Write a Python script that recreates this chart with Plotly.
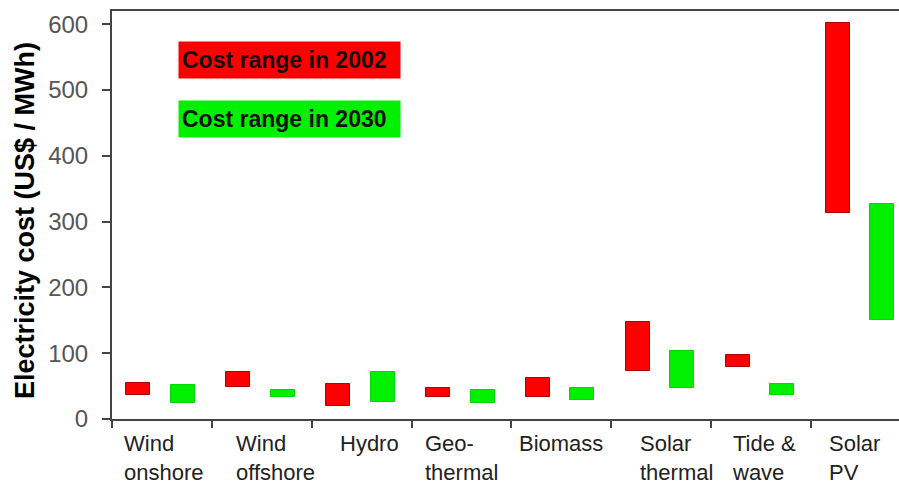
import plotly.graph_objects as go

categories = ["Wind<br>onshore", "Wind<br>offshore", "Hydro", "Geo-<br>thermal",
              "Biomass", "Solar<br>thermal", "Tide &<br>wave", "Solar<br>PV"]
low_2002 = [37, 49, 20, 33, 33, 73, 79, 313]
high_2002 = [55, 71, 53, 47, 62, 147, 97, 602]
low_2030 = [24, 34, 26, 24, 29, 47, 36, 150]
high_2030 = [52, 44, 71, 44, 47, 104, 53, 327]
y_ticks = [0, 100, 200, 300, 400, 500, 600]
legend_2002 = "Cost range in 2002"
legend_2030 = "Cost range in 2030"
y_title = "Electricity cost (US$ / MWh)"

# layout: where each category label sits within its slot (fraction of slot)
label_pos = [0.52, 0.64, 0.58, 0.50, 0.50, 0.65, 0.53, 0.43]

n = len(categories)
idx = list(range(n))

RED = "#FF0000"
GREEN = "#00F000"

fig = go.Figure()
fig.add_trace(go.Bar(
    x=[i + 0.265 for i in idx],
    y=[h - l for h, l in zip(high_2002, low_2002)],
    base=low_2002, width=0.24,
    marker=dict(color=RED, line=dict(color="#B00000", width=1)),
    name=legend_2002, showlegend=False,
))
fig.add_trace(go.Bar(
    x=[i + 0.71 for i in idx],
    y=[h - l for h, l in zip(high_2030, low_2030)],
    base=low_2030, width=0.24,
    marker=dict(color=GREEN, line=dict(color="#00D800", width=1)),
    name=legend_2030, showlegend=False,
))

# category labels
for i, lab in enumerate(categories):
    fig.add_annotation(
        x=i + label_pos[i], y=0, xref="x", yref="paper",
        yanchor="top", xanchor="center", yshift=-10,
        text=lab, align="left", showarrow=False,
        font=dict(family="Liberation Sans, Arial", size=22, color="#222222"),
    )

# legend boxes
for k, (txt, col) in enumerate([(legend_2002, RED), (legend_2030, GREEN)]):
    fig.add_annotation(
        x=0.084, y=1 - (49 + k * 59) / 408,
        xref="paper", yref="paper", xanchor="left", yanchor="middle",
        text="<b>" + txt + "</b>", showarrow=False, align="left",
        bgcolor=col, width=215, height=30, borderpad=3,
        font=dict(family="Liberation Sans, Arial", size=23, color="#111111"),
    )

# y-axis title
fig.add_annotation(
    x=0, y=0.485, xref="paper", yref="paper", xshift=-87,
    xanchor="center", yanchor="middle",
    text="<b>" + y_title + "</b>", textangle=-90, showarrow=False,
    font=dict(family="Liberation Sans, Arial", size=27, color="#000000"),
)

fig.update_layout(
    width=899, height=486,
    margin=dict(l=112, r=0, t=11, b=67),
    plot_bgcolor="white", paper_bgcolor="white",
    bargap=0, barmode="overlay",
    xaxis=dict(
        range=[0, 7.88], tickvals=list(range(n + 1)), showticklabels=False,
        ticks="outside", ticklen=7, tickwidth=2, tickcolor="#444444",
        showline=True, linecolor="#444444", linewidth=2, mirror=True,
        showgrid=False, zeroline=False, fixedrange=True,
    ),
    yaxis=dict(
        range=[0, 620], tickvals=y_ticks, ticktext=[str(t) for t in y_ticks],
        ticks="outside", ticklen=8, tickwidth=1.5, tickcolor="#444444",
        ticklabelstandoff=9,
        showline=True, linecolor="#444444", linewidth=2,
        showgrid=False, zeroline=False,
        tickfont=dict(family="Liberation Sans, Arial", size=24, color="#555555"),
    ),
)

fig.write_html("out.html")
